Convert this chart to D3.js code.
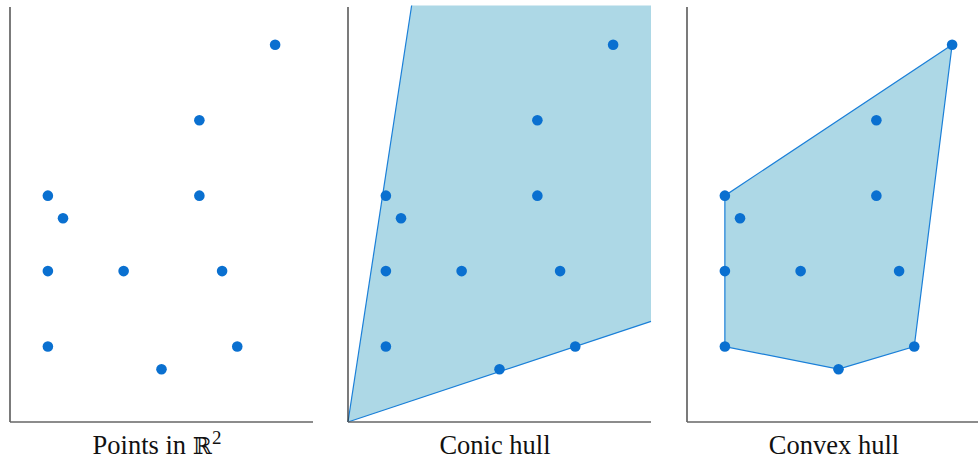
<!DOCTYPE html>
<html>
<head>
<meta charset="utf-8">
<script src="https://cdn.jsdelivr.net/npm/d3@7"></script>
<style>
  html, body { margin: 0; padding: 0; background: #fff; }
  svg { display: block; }
  .title { font-family: "Liberation Serif", "Times New Roman", Times, serif; }
  .bb { font-family: "DejaVu Serif", serif; }
</style>
</head>
<body>
<svg id="chart" width="978" height="462"></svg>
<script>
// Point set in the plane
const pointsX = [0.5, 0.7, 0.5, 1.5, 0.5, 2.0, 2.5, 2.5, 2.8, 3.0, 3.5];
const pointsY = [3.0, 2.7, 2.0, 2.0, 1.0, 0.7, 4.0, 3.0, 2.0, 1.0, 5.0];

// Conic hull: apex at origin, bounded by two rays (clipped to the plot box)
const coneX = [0, 4.0, 4.0, 0.84];
const coneY = [0, 1.333, 5.52, 5.52];

// Convex hull vertices (indices into the point set, in order)
const hullOrder = [4, 5, 9, 10, 0];

const panelTitles = ["Points in ", "Conic hull", "Convex hull"];
const panelOffsets = [0, 338, 677];

const svg = d3.select("#chart");
const x = d3.scaleLinear().domain([0, 4]).range([10, 313]);
const y = d3.scaleLinear().domain([0, 5.5]).range([422, 7]);

const dotColor = "#0a70d0";
const lineColor = "#1a7fd8";
const fillColor = "#add8e6";

const pts = pointsX.map((v, i) => [v, pointsY[i]]);
const line = d3.line().x(d => x(d[0])).y(d => y(d[1]));

panelOffsets.forEach((off, p) => {
  const g = svg.append("g").attr("transform", `translate(${off},0)`);

  if (p === 1) {
    const cone = coneX.map((v, i) => [v, coneY[i]]);
    g.append("path")
      .attr("d", line(cone) + "Z")
      .attr("fill", fillColor)
      .attr("stroke", "none");
    // the two bounding rays
    g.append("path").attr("d", line([cone[0], cone[1]]))
      .attr("fill", "none").attr("stroke", lineColor).attr("stroke-width", 1.2);
    g.append("path").attr("d", line([cone[0], cone[3]]))
      .attr("fill", "none").attr("stroke", lineColor).attr("stroke-width", 1.2);
  }
  if (p === 2) {
    const hull = hullOrder.map(i => pts[i]);
    g.append("path")
      .attr("d", line(hull) + "Z")
      .attr("fill", fillColor)
      .attr("stroke", lineColor)
      .attr("stroke-width", 1.2);
  }

  // axes: left spine and bottom spine
  g.append("line")
    .attr("x1", x(0)).attr("x2", x(0))
    .attr("y1", y.range()[1]).attr("y2", y(0))
    .attr("stroke", "#333").attr("stroke-width", 1.3);
  g.append("line")
    .attr("x1", x(0)).attr("x2", x(4))
    .attr("y1", y(0)).attr("y2", y(0))
    .attr("stroke", "#666").attr("stroke-width", 1.5);

  g.selectAll("circle.pt")
    .data(pts)
    .join("circle")
    .attr("class", "pt")
    .attr("cx", d => x(d[0]))
    .attr("cy", d => y(d[1]))
    .attr("r", 5.3)
    .attr("fill", dotColor);

  const t = g.append("text")
    .attr("class", "title")
    .attr("x", 157)
    .attr("y", 454)
    .attr("text-anchor", "middle")
    .attr("font-size", 26.5)
    .attr("fill", "#111")
    .text(panelTitles[p]);
  if (p === 0) {
    t.append("tspan").attr("class", "bb").attr("font-size", 23).text("ℝ");
    t.append("tspan").attr("dy", -10).attr("font-size", 19).text("2");
  }
});
</script>
</body>
</html>
